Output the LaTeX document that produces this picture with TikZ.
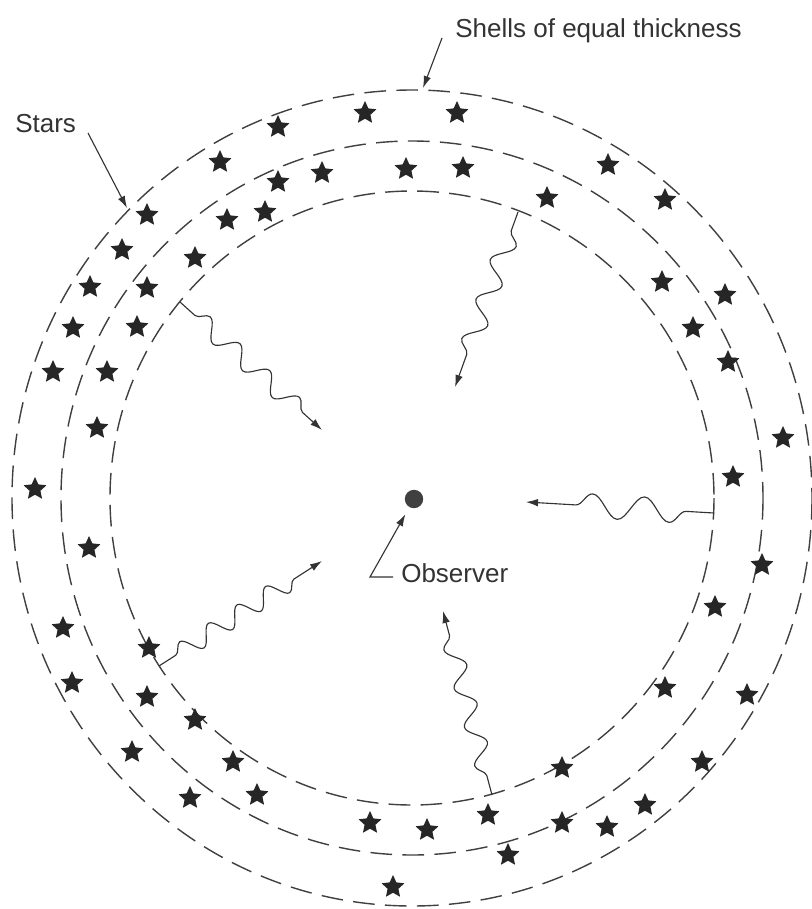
\documentclass[tikz,border=0pt]{standalone}
\usepackage{fontspec}
\setmainfont{Liberation Sans}
\usetikzlibrary{arrows.meta, shapes.geometric, decorations.pathmorphing}

\begin{document}
\begin{tikzpicture}[
  x=0.025cm, y=-0.025cm,
  shell/.style={draw=black!75, line width=1pt, dash pattern=on 5.4mm off 2.6mm},
  starmark/.style={star, star points=5, star point ratio=2.1, fill=black!85, inner sep=0pt, minimum size=6mm},
  txt/.style={font=\fontsize{18.5}{21}\selectfont, text=black!80, inner sep=0pt},
  pointer/.style={-{Latex[length=3mm, width=1.9mm]}, draw=black!80, line width=0.8pt},
  photon/.style={-{Latex[length=3mm, width=1.9mm]}, draw=black!80, line width=0.8pt, decorate,
    decoration={snake, amplitude=2.3mm, segment length=10mm, pre length=5mm, post length=6mm}}
]
  \useasboundingbox (0,0) rectangle (811,909);

  % three shells round the observer
  \coordinate (c) at (412,498);
  \draw[shell] (c) ellipse [x radius=400, y radius=408];
  \draw[shell] (c) ellipse [x radius=351, y radius=357];
  \draw[shell] (c) ellipse [x radius=302, y radius=307];

  % stars in the shells
  \foreach \x/\y [count=\i] in {278/127, 365/113, 457/113, 220/162, 278/182, 322/173,
      406/169, 463/168, 147/215, 227/220, 265/212, 122/250, 195/258, 90/287, 147/288,
      73/328, 137/327, 53/372, 107/372, 97/428, 35/489,
      608/165, 547/198, 665/200, 662/282, 725/295, 693/328, 728/362, 783/438, 733/477,
      89/548, 63/628, 149/648, 72/683, 147/697, 195/720, 132/752, 233/762, 190/798,
      257/795, 370/823, 393/887,
      762/565, 715/607, 665/688, 747/695, 702/762, 562/768, 645/805, 488/815, 427/830,
      562/823, 607/827, 508/855}
    \node[starmark] (s\i) at (\x,\y) {};

  % observer
  \node[circle, fill=black!75, inner sep=0pt, minimum size=4.6mm] (obs) at (414,499) {};
  \node[txt, anchor=base west] (obslbl) at (401,582) {Observer};
  \coordinate (obsfoot) at (393,577);
  \coordinate (obselbow) at (370,577);
  \draw[pointer, shorten >=2mm] (obsfoot) -- (obselbow) -- (obs);

  % labels
  \node[txt, anchor=base west] (starslbl) at (15,132) {Stars};
  \node[txt, anchor=base west] (shellslbl) at (455,37) {Shells of equal thickness};
  \coordinate (starsfrom) at (88,133);
  \coordinate (starsto) at (127,208);
  \coordinate (shellsfrom) at (442,38);
  \coordinate (shellsto) at (423,88);
  \draw[pointer] (starsfrom) -- (starsto);
  \draw[pointer] (shellsfrom) -- (shellsto);

  % light from the inner shell
  \coordinate (p1a) at (180,302);  \coordinate (p1b) at (322,430);
  \coordinate (p2a) at (518,212);  \coordinate (p2b) at (455,387);
  \coordinate (p3a) at (714,513);  \coordinate (p3b) at (526,502);
  \coordinate (p4a) at (159,666);  \coordinate (p4b) at (322,561);
  \coordinate (p5a) at (492,795);  \coordinate (p5b) at (443,611);
  \draw[photon] (p1a) -- (p1b);
  \draw[photon, decoration={segment length=10.5mm, amplitude=2.5mm}] (p2a) -- (p2b);
  \draw[photon, decoration={amplitude=3mm, segment length=13mm, pre length=7mm, post length=6mm}] (p3a) -- (p3b);
  \draw[photon, decoration={segment length=8.5mm}] (p4a) -- (p4b);
  \draw[photon] (p5a) -- (p5b);
\end{tikzpicture}
\end{document}
